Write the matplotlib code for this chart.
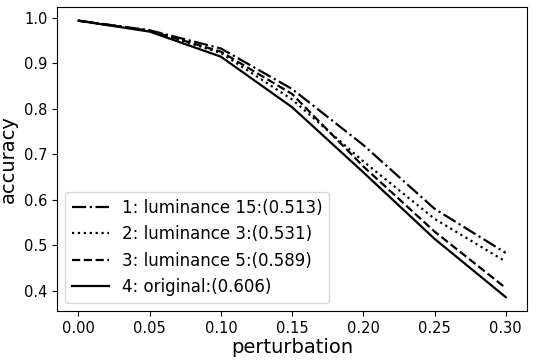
import matplotlib
matplotlib.use('Agg')
import matplotlib.pyplot as plt

# perturbação e acurácia
perturbacao = [0.00, 0.05, 0.10, 0.15, 0.20, 0.25, 0.30]
lum15 = [0.993, 0.972, 0.932, 0.843, 0.720, 0.580, 0.483]
lum3 = [0.993, 0.971, 0.922, 0.820, 0.684, 0.558, 0.464]
lum5 = [0.993, 0.971, 0.925, 0.832, 0.673, 0.530, 0.406]
original = [0.993, 0.969, 0.914, 0.803, 0.660, 0.514, 0.386]

rotulos = ['1: luminance 15:(0.513)', '2: luminance 3:(0.531)',
           '3: luminance 5:(0.589)', '4: original:(0.606)']
estilos = ['-.', ':', '--', '-']

fig, ax = plt.subplots(figsize=(5.39, 3.62), dpi=100)
for serie, estilo, rotulo in zip([lum15, lum3, lum5, original], estilos, rotulos):
    ax.plot(perturbacao, serie, linestyle=estilo, color='black', linewidth=1.6, label=rotulo)

ax.set_xlabel('perturbation', fontsize=14, labelpad=2)
ax.set_ylabel('accuracy', fontsize=14)
ax.tick_params(labelsize=10.5)
ax.legend(loc='lower left', fontsize=12, borderaxespad=0.5, handlelength=2.2)
fig.subplots_adjust(left=0.106, right=0.978, bottom=0.141, top=0.981)
fig.savefig('out.png')
